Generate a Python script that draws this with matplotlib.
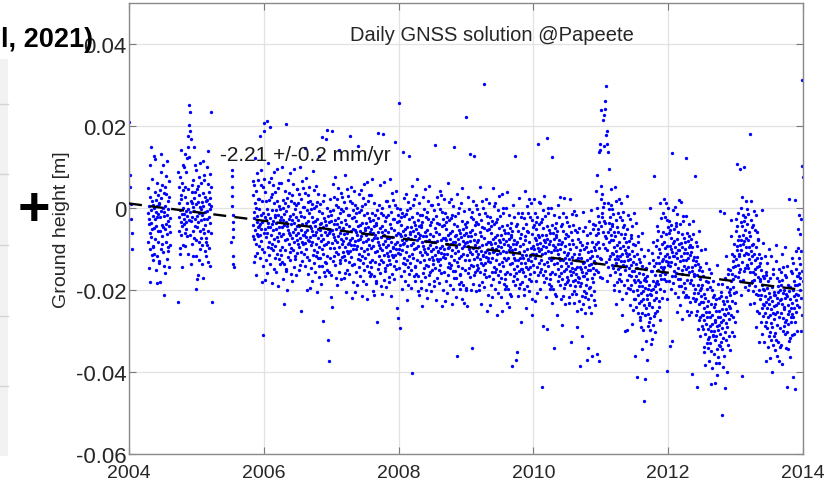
import numpy as np
import matplotlib
matplotlib.use('Agg')
import matplotlib.pyplot as plt
from matplotlib.patches import Rectangle
from matplotlib.lines import Line2D

plt.rcParams['font.family'] = ['Liberation Sans', 'DejaVu Sans']
plt.rcParams['axes.unicode_minus'] = False

# daily GNSS ground height at Papeete, units of 0.1 mm
# one row = one month of solutions
h2004_jan = [210, 80, 52, 10, -28, -62, -100]

h2004_spring = [
    -13, -83, 50, -40, -146, 4, -26, -101, 104, -61, 27, -181, -6, -71, 150, -36, 71, -115, 16, -51, -19, -92, 8, -127,
    -94, -1, -48, 127, -111, -27, 120, -76, 39, -152, -10, -43, 20, -117, -22, 5, -183, 62, -57, 32, -82, -15, -129, 9,
    13, -134, 44, -55, -23, -180, 25, 131, 88, -99, -8, -68, 57, -41, -87, 1, -47, 106, -108, -20, -212, 37, -141, -9,
    -52, 51, -159, 6, -82, 78, -38, 33, -125, -17, -64, 114, -104, 18, -31, -96, -3, -143, 27, -45, 67, -59, -24, -90]

h2004_autumn = [
    87, -230, 52, -21, 11, -56, 75, -111, -4, -98, 31, -34, 141, -67, 21, -144, 61, -14, -44, 106, 0, -90, 43, -27,
    -39, 99, -15, 52, -62, 27, -92, 132, -35, -8, 87, -50, 13, -20, 122, -69, 46, 150, -3, 176, -111, 203, -29, 252,
    124, 233, -67, 187, -10, 168, -136, 17, -31, 57, 11, -87, 38, -22, 69, -118, 3, -55, 150, -7, 25, -74, 104, -43,
    40, -26, 9, -117, -197, -77, 93, -47, 46, -19, -172, 54, -164, 14, -33, 75, -83, -12, -128, 32, -56, 109, -101, 2,
    -3, -73, 60, -30, -136, 14, -16, -91, 114, -51, 37, -171, 4, -61, 68, -26, 81, -105, 26, -41, -9, -82, 18, -117,
    -74, 19, -28, 101, -91, -7, 140, -56, 59, -132, 10, -23, 40, -97, -2, 25, -142, 82, -37, 52, -62, 5, 233, -230]

h2005_jul = [-83, 92, 78, 51, 29, 6, -16, -34, -52, -71, -117, -137, -144]

h2005_end = [
    67, -68, 32, -41, -9, -76, 55, -131, -24, -118, 11, -54, 121, -87, 1, -164, 41, -34, -64, 86, -20, -110, 23, -47,
    -69, 69, -45, 22, -92, -3, -122, 175, -65, -38, 57, -80, -17, -50, 92, -99, 16, -180, -33, 51, -141, -12, -310, 208]

h2006 = [
    -61, 71, -107, 187, -50, 38, -176, -23, -71, 17, -29, -127, -2, -62, 213, -158, -37, -95, 110, -47, -15, -114, 64, -83,
    20, -46, 198, -137, -25, -97, 73, -67, 26, -39, -88, 34, -184, -6, -53, 55, -103, -32, -148, 12, -76, 89, -121, -18,
    -23, -93, 40, -50, -156, -6, -36, -111, 94, -71, 17, -191, -16, -81, 48, -46, 61, -125, 6, -61, -29, -102, -2, -137,
    -114, -21, -68, 61, -131, -47, 100, -96, 19, -172, -30, -63, 0, -137, -42, -15, -234, 42, -77, 12, -102, -35, -149, 206,
    -7, -154, 24, -75, -43, -200, 5, -53, 68, -119, -28, -88, 37, -61, -107, -19, -67, 86, -128, -40, -98, 17, -161, -29,
    -72, 31, -179, -14, -102, 58, -58, 13, -145, -37, -84, 94, -124, -2, -51, -116, -23, -163, 7, -65, 47, -79, -44, -110,
    47, -88, 12, -61, -29, -96, 35, -151, -44, -138, -9, -74, 101, -107, -19, -252, 21, -54, -84, 66, -40, -130, 3, -67,
    -89, 49, -65, 2, -112, -23, -142, 146, -85, -58, 37, -100, -37, -70, 72, -119, -4, -200, -53, 31, -161, -32, -79, 14,
    -81, 51, -127, -12, -70, 18, -196, -43, -91, -3, -49, -147, -22, -82, 9, -178, -57, -115, 90, -67, -35, -134, 44, -103,
    0, -66, -31, -157, -45, -117, 53, -87, 6, -59, -108, 14, -204, -26, -73, 35, -123, -52, -168, -8, -96, 128, -141, -38,
    -53, -123, 10, -80, -186, -36, -66, -141, 173, -101, -13, -276, -46, -111, 18, -76, 31, -155, -24, -91, -59, -132, -32, -167,
    -134, -41, -88, 168, -151, -67, 191, -116, -1, -322, -50, -83, -20, -157, -62, -35, -372, 22, -97, -8, -122, -55, -218, -31]

h2007 = [
    -17, -164, 188, -85, -53, -241, -5, -63, 58, -129, -38, -98, 27, -71, -117, -29, -77, 76, -138, -50, -108, 7, -171, -39,
    -82, 21, -189, -24, -112, 48, -68, 3, -155, -47, -94, 141, -134, -12, -61, -126, -33, -173, -3, -75, 37, -89, -54, -120,
    27, -108, -8, -81, -49, -116, 15, -171, -64, -158, -29, -94, 81, -127, -39, -204, 1, -74, -104, 46, -60, -150, -17, -87,
    -109, 29, -85, -18, -132, -43, -162, 176, -105, -78, 17, -120, -57, -90, 52, -139, -24, -220, -73, 11, -181, -52, -99, -6,
    -91, 41, -137, -22, -80, 8, -206, -53, -101, -13, -59, -157, -32, -92, -1, -188, -67, -125, 152, -77, -45, -144, 34, -113,
    -10, -76, -41, -167, -55, -127, 43, -97, -4, -69, -118, 4, -214, -36, -83, 25, -133, -62, -178, -18, -106, 59, -151, -48,
    -53, -123, 10, -80, -186, -36, -66, -141, 64, -101, -13, -221, -46, -111, 18, -76, 31, -155, -24, -91, -59, -132, -32, -167,
    -144, -51, -98, 31, -161, -77, 70, -126, -11, -202, -60, -93, -30, -167, -72, -45, -212, 12, -107, -18, -132, -65, -179, -41,
    -37, -184, -6, -105, -73, -278, -25, -83, 183, -149, -58, -118, 7, -91, -137, -49, -97, 56, -158, -70, -128, -13, -191, -59,
    -102, 1, -209, -44, -132, 181, -88, -17, -175, -67, -114, 64, -154, -32, -81, -146, -53, -193, -23, -95, 17, -109, -74, -140,
    17, -118, -18, -91, -59, -126, 5, -181, -74, -168, -39, -104, 71, -137, -49, -214, -9, -84, -114, 36, -70, -160, -27, -97,
    -119, 19, -95, -28, -142, -53, -172, 161, -115, -88, 7, -130, -67, -100, 42, -149, -34, -243, -83, 1, -268, -62, -109, -16]

h2008 = [
    -101, 256, -147, -32, -90, -2, -292, -63, -111, -23, -69, -167, -42, -102, -11, -198, -77, -135, 137, -87, -55, -154, 24, -123,
    -20, -86, -51, -177, -65, -137, 33, -107, -14, -79, -128, -6, -224, -46, -93, 15, -143, -72, -188, -28, -116, 127, -161, -58,
    -63, -133, 0, -90, -196, -46, -76, -151, 54, -111, -23, -402, -56, -121, 8, -86, 21, -165, -34, -101, -69, -142, -42, -177,
    -144, -51, -98, 31, -161, -77, 70, -126, -11, -202, -60, -93, -30, -167, -72, -45, -212, 12, -107, -18, -132, -65, -179, -41,
    -47, -194, -16, -115, -83, -240, -35, -93, 28, -159, -68, -128, -3, -101, -147, -59, -107, 46, -168, -80, -138, -23, -201, -69,
    -112, -9, -219, -54, -142, 18, -98, -27, -185, -77, -124, 54, -164, -42, -91, -156, -63, -203, -33, -105, 7, -119, -84, -150,
    7, -128, -28, -101, -69, -136, -5, -191, -84, -178, -49, -114, 154, -147, -59, -224, -19, -94, -124, 26, -80, -170, -37, -107,
    -129, 9, -105, -38, -152, -63, -182, 42, -125, -98, -3, -140, -77, -110, 32, -159, -44, -240, -93, -9, -201, -72, -119, -26,
    -111, 21, -157, -42, -100, -12, -226, -73, -121, -33, -79, -177, -52, -112, -21, -208, -87, -145, 60, -97, -65, -164, 14, -133,
    -30, -96, -61, -187, -75, -147, 23, -117, -24, -89, -138, -16, -234, -56, -103, 5, -153, -82, -198, -38, -126, 148, -171, -68,
    -83, -153, -20, -110, -216, -66, -96, -171, 34, -131, -43, -361, -76, -141, -12, -106, 1, -185, -54, -121, -89, -162, -62, -197,
    -164, -71, -118, 11, -181, -97, 50, -146, -31, -222, -80, -113, -50, -187, -92, -65, -232, -8, -127, -38, -152, -85, -199, -61]

h2009 = [
    -47, -194, 221, -115, -83, -240, -35, -93, 28, -159, -68, -128, -3, -101, -147, -59, -107, 131, -168, -80, -138, -23, -201, -69,
    -112, -9, -341, -54, -142, 18, -98, -27, -185, -77, -124, 128, -164, -42, -91, -156, -63, -203, -33, -105, 7, -119, -84, -150,
    -3, -138, -38, -111, -79, -146, -15, -201, -94, -188, -59, -124, 51, -157, -69, -234, -29, -104, -134, 16, -90, -180, -47, -117,
    -139, -1, -115, -48, -162, -73, -192, 302, -135, -108, -13, -150, -87, -120, 22, -169, -54, -250, -103, -19, -211, -82, -129, -36,
    -121, 11, -167, -52, -110, -22, -236, -83, -131, -43, -89, -187, -62, -122, -31, -218, -97, -155, 50, -107, -75, -174, 4, -143,
    -40, -106, -71, -197, -85, -157, 13, -127, -34, -99, -148, -26, -262, -66, -113, -5, -163, -92, -208, -48, -136, 29, -181, -78,
    -83, -153, -20, -110, -216, -66, -96, -171, 34, -131, -43, -251, -76, -141, -12, -106, 1, -185, -54, -121, -89, -162, -62, -197,
    -174, -81, -128, 1, -191, -107, 40, -156, -41, -232, -90, -123, -60, -197, -102, -75, -242, -18, -137, -48, -162, -95, -209, -71,
    -67, -214, -36, -135, -103, -386, -55, -113, 8, -179, -88, -148, -23, -121, -167, -79, -127, 127, -188, -100, -158, -43, -371, -89,
    -142, -39, -352, -84, -172, -12, -128, -57, -215, -107, -154, 24, -194, -72, -121, -186, -93, -277, -63, -135, -23, -149, -114, -180,
    -13, -148, -48, -121, -89, -156, -25, -211, -104, -198, -69, -134, 41, -167, -79, -244, -39, -114, -144, 6, -100, -190, -57, -127,
    -149, -11, -125, -58, -172, -83, -202, 22, -145, -118, -23, -160, -97, -130, 12, -179, -64, -260, -113, -29, -221, -92, -139, -46]

h2010 = [
    -111, 21, -157, -42, -100, -12, -226, -73, -121, -33, -79, -177, -52, -112, -21, -208, -87, -145, 157, -97, -65, -164, 14, -133,
    -40, -106, -71, -197, -85, -157, 13, -127, -34, -99, -148, -26, -436, -66, -113, -5, -163, -92, -288, -48, -136, 29, -181, -78,
    -83, -153, -20, -110, -216, -66, -96, -171, 171, -131, -43, -296, -76, -141, -12, -106, 1, -185, -54, -121, -89, -162, -62, -197,
    -174, -81, -128, 1, -191, -107, 124, -156, -41, -232, -90, -123, -60, -197, -102, -75, -341, -18, -137, -48, -162, -95, -209, -71,
    -67, -214, -36, -135, -103, -260, -55, -113, 8, -179, -88, -148, -23, -121, -167, -79, -127, 26, -188, -100, -158, -43, -221, -89,
    -142, -39, -286, -84, -172, -12, -128, -57, -215, -107, -154, 24, -194, -72, -121, -186, -93, -233, -63, -135, -23, -149, -114, -180,
    -33, -168, -68, -141, -109, -176, -45, -231, -124, -218, -89, -154, 21, -187, -99, -327, -59, -134, -164, -14, -120, -210, -77, -147,
    -179, -41, -155, -88, -202, -113, -232, -8, -175, -148, -53, -190, -127, -160, -18, -209, -94, -290, -143, -59, -251, -122, -169, -76,
    -181, -49, -227, -112, -170, -82, -386, -143, -191, -103, -149, -247, -122, -182, -91, -311, -157, -215, -10, -167, -135, -234, -56, -203,
    -100, -166, -131, -257, -145, -217, -47, -187, -94, -159, -208, -86, -371, -126, -173, -65, -223, -152, -342, -108, -196, -31, -241, -138,
    -123, -193, -60, -150, -256, -106, -136, -211, -6, -171, -83, -361, -116, -181, -52, -146, -39, -225, -94, -161, -129, -202, -102, -237,
    -134, -41, -88, 41, -151, -67, 80, -116, -1, -356, -50, -83, -20, -157, -62, -35, -372, 137, -97, 141, -122, 155, -169, 238]

h2011 = [
    23, -124, 54, -45, -13, -170, 35, -23, 214, -89, 2, -58, 226, -31, 152, 11, -37, 241, -98, 262, -68, 178, -131, 297,
    -72, 155, -179, 187, -102, 137, -58, 13, -145, -37, -84, 94, -124, -2, -51, -116, -23, -163, 7, -65, 47, -79, -44, -110,
    -3, -138, -38, -111, -79, -146, -15, -201, -94, -188, -59, -124, 51, -157, -69, -234, -29, -104, -134, 16, -90, -180, -47, -117,
    -149, -11, -125, -58, -172, -83, -202, 22, -145, -118, -23, -160, -97, -130, 12, -179, -64, -260, -113, -29, -221, -92, -139, -46,
    -141, -9, -187, -72, -130, -42, -301, -103, -151, -63, -109, -207, -82, -142, -51, -298, -117, -175, 30, -127, -95, -194, -16, -163,
    -80, -146, -111, -237, -125, -197, -27, -167, -74, -139, -188, -66, -284, -106, -153, -45, -203, -132, -248, -88, -176, -11, -221, -118,
    -153, -223, -90, -180, -362, -136, -166, -241, -36, -201, -113, -412, -146, -211, -82, -176, -69, -255, -124, -191, -159, -232, -132, -267,
    -274, -181, -228, -99, -291, -207, -60, -256, -141, -343, -190, -223, -160, -297, -202, -175, -471, -118, -237, -148, -262, -195, -418, -171,
    -177, -324, -146, -245, -213, -370, -165, -223, -102, -289, -198, -258, -133, -231, -277, -189, -237, 1, -298, -210, -268, -153, -331, -199,
    -212, -109, -319, -154, -242, -82, -198, -127, -285, -177, -224, 77, -264, -142, -191, -256, -163, -303, -133, -205, -93, -219, -184, -250,
    -43, -178, -78, -151, -119, -186, -55, -241, -134, -228, -99, -164, 11, -197, -109, -274, -69, -144, -174, -24, -130, -220, -87, -157,
    -149, -11, -125, -58, -172, -83, -202, 22, -145, -118, -23, -160, -97, -130, 12, -179, -64, -398, -113, -29, -221, -92, -139, -46]

h2012 = [
    -131, 1, -177, -62, -120, -32, -336, -93, -141, -53, -99, -197, -72, -132, -41, -324, -107, -165, 134, -117, -85, -184, -6, -153,
    -50, -116, -81, -207, -95, -167, 3, -137, -44, -109, -158, -36, -254, -76, -123, -15, -173, -102, -218, -58, -146, 19, -191, -88,
    -103, -173, -40, -130, -236, -86, -116, -191, 14, -151, -63, -271, -96, -161, -32, -126, -19, -205, -74, -141, -109, -182, -82, -217,
    -194, -101, -148, -19, -211, -127, 121, -176, -61, -252, -110, -143, -80, -217, -122, -95, -262, -38, -157, -68, -182, -115, -229, -91,
    -107, -254, -76, -175, -143, -405, -95, -153, -32, -219, -128, -188, -63, -161, -207, -119, -167, 78, -228, -140, -198, -83, -261, -129,
    -222, -119, -436, -164, -252, -92, -208, -137, -295, -187, -234, -56, -274, -152, -201, -266, -173, -313, -143, -215, -103, -229, -194, -260,
    -153, -288, -188, -261, -229, -296, -165, -351, -244, -338, -209, -274, -99, -307, -219, -384, -179, -254, -284, -134, -240, -330, -197, -267,
    -319, -181, -295, -228, -342, -253, -372, -148, -315, -288, -193, -330, -267, -300, -158, -349, -234, -430, -283, -199, -391, -262, -309, -216,
    -311, -179, -357, -242, -300, -212, -426, -273, -321, -233, -279, -377, -252, -312, -221, -408, -287, -345, -140, -297, -265, -364, -186, -333,
    -220, -286, -251, -377, -265, -337, -8, -307, -214, -279, -328, -206, -505, -246, -293, -185, -343, -272, -388, -228, -316, -11, -361, -258,
    -233, -303, -170, -260, -438, -216, -246, -321, -116, -281, -193, -401, -226, -291, -162, -256, -149, -335, -204, -271, -239, -312, -212, -347,
    -244, -151, -198, -69, -261, -177, -30, -226, -111, -302, -160, -193, -130, -267, -172, -145, -312, -88, -207, -118, -232, -165, -279, -141]

h2013 = [
    -57, -204, -26, -125, -93, -250, -45, -103, 107, -169, -78, -138, -13, -111, -157, -69, -117, 95, -178, -90, -148, -33, -211, -79,
    -102, 1, -409, -44, -132, 28, -88, -17, -175, -67, -114, 101, -154, -32, -81, -146, -53, -193, -23, -95, 17, -109, -74, -140,
    -3, -138, -38, -111, -79, -146, -15, -201, -94, -188, -59, -124, 181, -157, -69, -234, -29, -104, -134, 16, -90, -180, -47, -117,
    -179, -41, -155, -88, -202, -113, -232, -8, -175, -148, -53, -190, -127, -160, -18, -209, -94, -290, -143, -59, -251, -122, -169, -76,
    -211, -79, -257, -142, -200, -112, -326, -173, -221, -133, -179, -277, -152, -212, -121, -308, -187, -245, -4, -197, -165, -264, -86, -233,
    -170, -236, -201, -327, -215, -287, -117, -257, -164, -229, -278, -156, -374, -196, -243, -135, -293, -222, -338, -178, -266, -101, -311, -208,
    -233, -303, -170, -260, -366, -216, -246, -321, -116, -281, -193, -401, -226, -291, -162, -256, -149, -335, -204, -271, -239, -312, -212, -347,
    -304, -211, -258, -129, -321, -237, -90, -286, -171, -362, -220, -253, -190, -327, -232, -205, -372, -148, -267, -178, -292, -225, -339, -201,
    -187, -334, -156, -255, -223, -380, -175, -233, -112, -299, -208, -268, -143, -241, -287, -199, -247, -94, -308, -220, -278, -163, -341, -209,
    -272, -169, -436, -214, -302, -142, -258, -187, -345, -237, -284, 21, -324, -202, -251, -316, -223, -363, -193, -265, -153, -279, -244, -310,
    -123, -258, -158, -231, -199, -266, -135, -411, -214, -308, -179, -244, 19, -277, -189, -441, -149, -224, -254, -104, -210, -300, -167, -237,
    -189, -51, -165, -98, -212, -123, -242, -18, -185, -158, -63, -200, -137, -170, -28, -219, -104, -300, -153, 311, -261, 103, -179, 75]

# linear fit shown as dashed line
trend_years = [2004, 2014]
trend_height = [0.0011, -0.0200]
trend_label = '-2.21 +/-0.2 mm/yr'

year_ticks = [2004, 2006, 2008, 2010, 2012, 2014]
height_ticks = [-0.06, -0.04, -0.02, 0, 0.02, 0.04]
height_labels = ['-0.06', '-0.04', '-0.02', '0', '0.02', '0.04']

# (first epoch in decimal years, sampling step in years, heights)
blocks = [
    (2004.00, 1 / 120, h2004_jan),
    (2004.28, 1 / 288, h2004_spring),
    (2004.73, 1 / 288, h2004_autumn),
    (2005.52, 1 / 365, h2005_jul),
    (2005.8333, 1 / 288, h2005_end + h2006 + h2007 + h2008 + h2009
     + h2010 + h2011 + h2012 + h2013),
]
t = np.concatenate([t0 + step * np.arange(len(v)) for t0, step, v in blocks])
h = np.concatenate([np.array(v, float) for _, _, v in blocks]) / 1e4

fig = plt.figure(figsize=(8.26, 4.89), dpi=100)
W, H = 826, 489
ax = fig.add_axes([129 / W, 1 - 455 / H, 674 / W, 451 / H])

ax.plot(t, h, 'o', ms=2.4, mec='none', color='#0000ff', zorder=2)
ax.plot(trend_years, trend_height, color='k', lw=1.7, ls=(0, (5.5, 3.5)), zorder=3)

ax.set_xlim(2004, 2014)
ax.set_ylim(-0.06, 0.05)
ax.set_xticks(year_ticks)
ax.set_xticklabels([str(y) for y in year_ticks])
ax.set_yticks(height_ticks)
ax.set_yticklabels(height_labels)
ax.grid(True, color='#e2e2e2', lw=0.9)
ax.set_axisbelow(True)
ax.tick_params(direction='in', top=True, right=True, length=5, width=0.8,
               color='#7a7a7a', labelsize=14, labelcolor='#262626')
ax.tick_params(axis='x', pad=7)
ax.tick_params(axis='y', pad=2, labelsize=16)
for s in ax.spines.values():
    s.set_color('#8a8a8a')
    s.set_linewidth(1.0)

ax.set_ylabel('Ground height [m]', fontsize=14, color='#262626')
ax.yaxis.label.set_va('center')
ax.yaxis.set_label_coords((62 - 129) / 674, 0.5)

ax.text(0.5386, 0.931, 'Daily GNSS solution @Papeete', transform=ax.transAxes,
        ha='center', va='center', fontsize=14.5, color='#262626', zorder=4)
ax.text(2005.35, 0.0130, trend_label, ha='left', va='center', fontsize=15,
        color='#1a1a1a', zorder=4)

# bits of the surrounding slide
fig.patches.append(Rectangle((0, 1 - 457 / H), 8 / W, 397 / H, transform=fig.transFigure,
                             facecolor='#f2f2f2', edgecolor='none'))
for yy in [105, 175, 246, 317, 387]:
    fig.add_artist(Line2D([0, 8 / W], [1 - yy / H] * 2, color='#d4d4d4', lw=1))
fig.text(1 / W, 1 - 47 / H, 'l, 2021)', fontsize=19.5, fontweight='bold',
         ha='left', va='baseline', color='black')
fig.text(34 / W, 1 - 211 / H, '+', fontsize=40, fontweight='bold',
         ha='center', va='center', color='black')

fig.savefig('out.png', dpi=100)
